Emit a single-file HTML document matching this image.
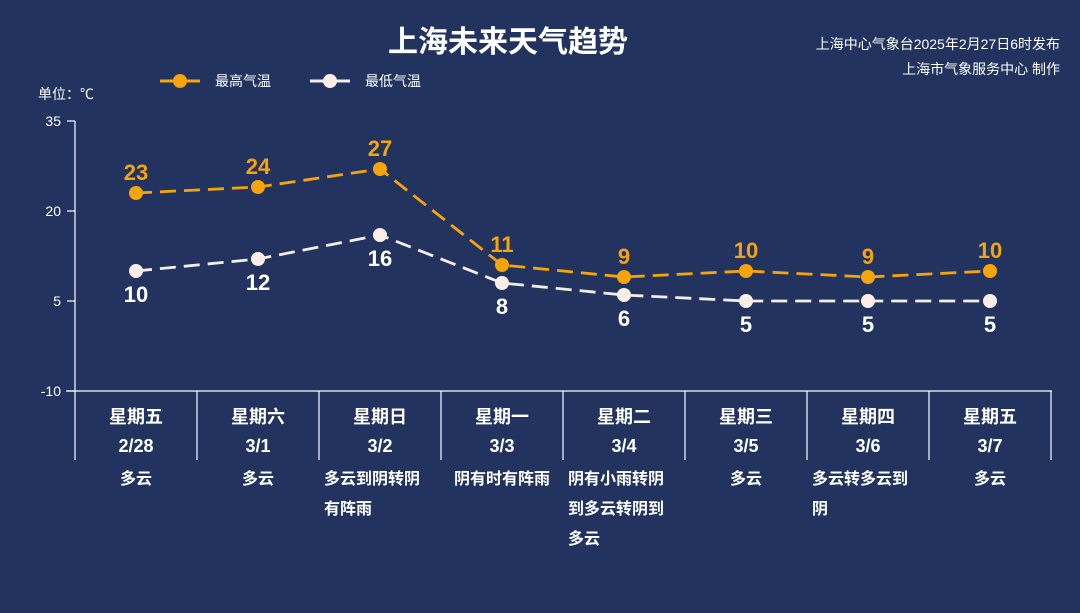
<!DOCTYPE html>
<html><head><meta charset="utf-8"><style>
html,body{margin:0;padding:0;background:#22335f;}
svg{display:block;font-family:"Liberation Sans","Noto Sans CJK SC",sans-serif;}
</style></head><body>
<svg id="c" width="1080" height="613">
<rect width="1080" height="613" fill="#22335f"/>
<text x="508" y="52" text-anchor="middle" fill="#fff" font-size="30" font-weight="bold">上海未来天气趋势</text>
<text x="1060" y="49" text-anchor="end" fill="#fff" font-size="14">上海中心气象台2025年2月27日6时发布</text>
<text x="1060" y="74" text-anchor="end" fill="#fff" font-size="14">上海市气象服务中心 制作</text>
<g>
<line x1="160" y1="81" x2="200" y2="81" stroke="#f5a40c" stroke-width="3"/>
<circle cx="180" cy="81" r="7" fill="#f5a40c"/>
<text x="215" y="86" fill="#fff" font-size="14">最高气温</text></g>
<g>
<line x1="310" y1="81" x2="350" y2="81" stroke="#f5ede8" stroke-width="3"/>
<circle cx="330" cy="81" r="7" fill="#fbeee6"/>
<text x="365" y="86" fill="#fff" font-size="14">最低气温</text></g>
<text x="38" y="99" fill="#fff" font-size="14">单位：℃</text>
<g id="g"></g>
</svg>
<script>
const days=["星期五","星期六","星期日","星期一","星期二","星期三","星期四","星期五"];
const dates=["2/28","3/1","3/2","3/3","3/4","3/5","3/6","3/7"];
const weather=[["多云"],["多云"],["多云到阴转阴","有阵雨"],["阴有时有阵雨"],["阴有小雨转阴","到多云转阴到","多云"],["多云"],["多云转多云到","阴"],["多云"]];
const highs=[23,24,27,11,9,10,9,10];
const lows=[10,12,16,8,6,5,5,5];
const yTicks=[35,20,5,-10];
const NS="http://www.w3.org/2000/svg";
const g=document.getElementById('g');
const x0=75,colW=122;
const X=i=>x0+colW*(i+0.5);
const Y=v=>121+(35-v)*6;
function el(t,a,txt){const e=document.createElementNS(NS,t);for(const k in a)e.setAttribute(k,a[k]);if(txt!==undefined)e.textContent=txt;g.appendChild(e);return e;}
let e=el('line',{x1:x0,y1:Y(35),x2:x0,y2:Y(-10),stroke:'#fff','stroke-width':1.2});


yTicks.forEach(v=>{
 let t=el('line',{x1:x0-8,y1:Y(v),x2:x0,y2:Y(v),stroke:'#fff','stroke-width':1.2});
 
 
 let l=el('text',{x:x0-14,y:Y(v)+5,'text-anchor':'end',fill:'#fff','font-size':14},v);
 
 
});
e=el('line',{x1:66,y1:Y(-10),x2:x0+colW*days.length+1,y2:Y(-10),stroke:'#fff','stroke-width':1.2});


for(let i=0;i<=days.length;i++){
 let d=el('line',{x1:x0+colW*i,y1:Y(-10),x2:x0+colW*i,y2:460,stroke:'#fff','stroke-width':1.2});
 
 
}
days.forEach((d,i)=>{
 let a=el('text',{x:X(i),y:423,'text-anchor':'middle',fill:'#fff','font-size':18,'font-weight':'bold'},d);
 
 
 let b=el('text',{x:X(i),y:452,'text-anchor':'middle',fill:'#fff','font-size':18,'font-weight':'bold'},dates[i]);
 
 
 const w=weather[i];
 w.forEach((s,j)=>{
  const single=w.length===1;
  let c=el('text',{x:single?X(i):x0+colW*i+5,y:484+j*30,'text-anchor':single?'middle':'start',fill:'#fff','font-size':16,'font-weight':'bold'},s);
  
  
 });
});
function series(vals,color,dot,name,above){
 let p=el('polyline',{points:vals.map((v,i)=>X(i)+','+Y(v)).join(' '),fill:'none',stroke:color,'stroke-width':2.8,'stroke-dasharray':'16,8'});
 
 
 vals.forEach((v,i)=>{
  let c=el('circle',{cx:X(i),cy:Y(v),r:7,fill:dot});
  
  
  let t=el('text',{x:X(i),y:above?Y(v)-13:Y(v)+31,'text-anchor':'middle',fill:above?color:'#fff','font-size':22,'font-weight':'bold'},v);
  
  
 });
}
series(lows,'#f5ede8','#fbeee6','low-temp',false);
series(highs,'#f5a40c','#f5a40c','high-temp',true);
</script>
</body></html>
